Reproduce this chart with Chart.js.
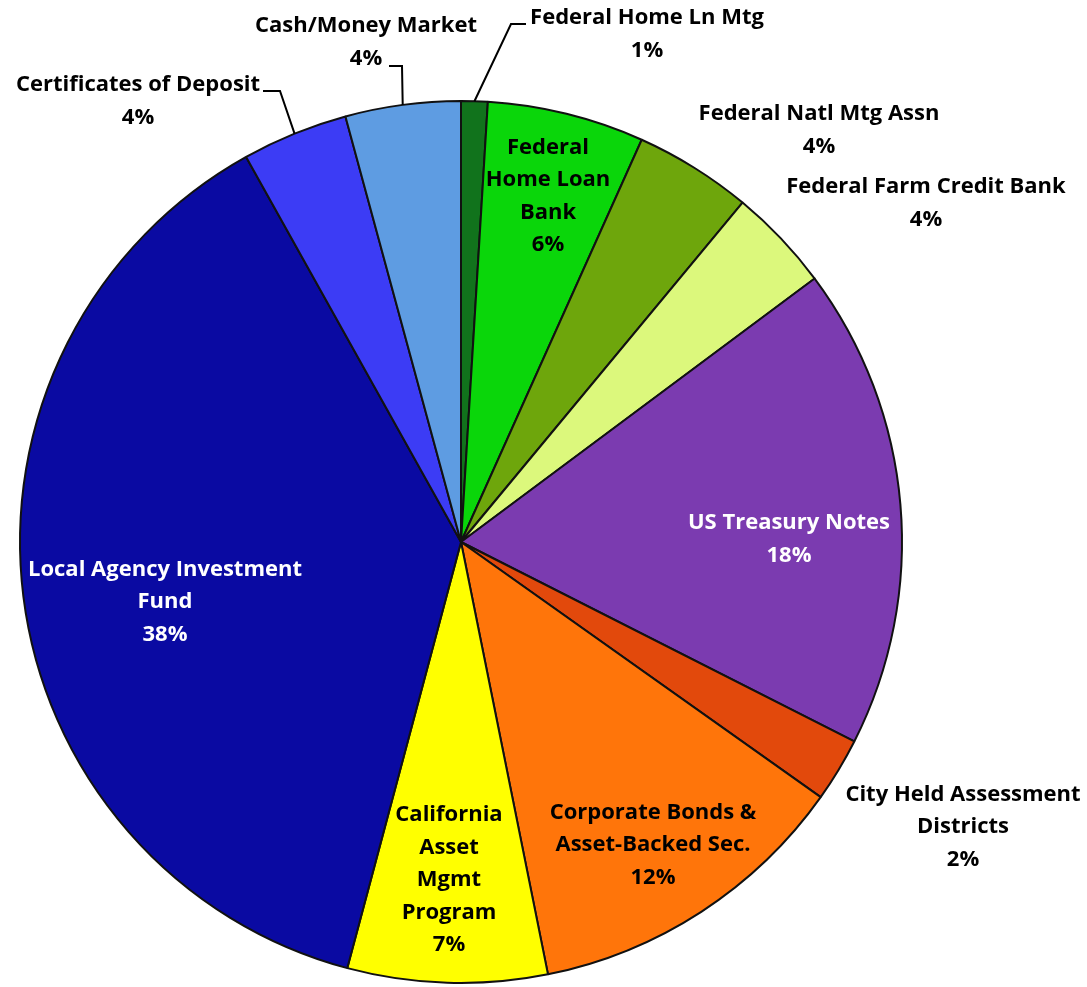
<!DOCTYPE html>
<html>
<head>
<meta charset="utf-8">
<script src="https://cdn.jsdelivr.net/npm/chart.js@4"></script>
<style>
  html, body { margin: 0; padding: 0; background: #fff; }
</style>
</head>
<body>
<canvas id="chart1" width="1087" height="987"></canvas>
<script>
// slice names, wrapped the way they appear on the chart
const categories = [
  ['Federal Home Ln Mtg'],
  ['Federal', 'Home Loan', 'Bank'],
  ['Federal Natl Mtg Assn'],
  ['Federal Farm Credit Bank'],
  ['US Treasury Notes'],
  ['City Held Assessment', 'Districts'],
  ['Corporate Bonds &', 'Asset-Backed Sec.'],
  ['California', 'Asset', 'Mgmt', 'Program'],
  ['Local Agency Investment', 'Fund'],
  ['Certificates of Deposit'],
  ['Cash/Money Market']
];
const shares = [0.97, 5.75, 4.3, 3.79, 17.66, 2.35, 12.02, 7.31, 37.75, 3.88, 4.22];
const sliceColors = ['#11731c', '#0ad60a', '#6ea60c', '#dcf87c', '#7b3bb0', '#e2490c',
                     '#ff750a', '#ffff00', '#0a0aa2', '#3c3cf5', '#5e9ce2'];

// where each label sits, relative to the pie centre (px), plus optional leader line
const labelLayout = [
  { dx: 186, dy: -508, color: '#000', leader: [[50, -518], [65, -518]] },
  { dx: 87, dy: -346, color: '#000' },
  { dx: 358, dy: -412, color: '#000' },
  { dx: 465, dy: -339, color: '#000' },
  { dx: 328, dy: -3, color: '#fff' },
  { dx: 502, dy: 285, color: '#000' },
  { dx: 192, dy: 303, color: '#000' },
  { dx: -12, dy: 338, color: '#000' },
  { dx: -296, dy: 60, color: '#fff' },
  { dx: -323, dy: -441, color: '#000', leader: [[-181, -451], [-198, -451]] },
  { dx: -95, dy: -500, color: '#000', leader: [[-59, -476], [-72, -476]] }
];

const sliceLabels = {
  id: 'sliceLabels',
  afterDatasetsDraw(chart) {
    const ctx = chart.ctx;
    const arcs = chart.getDatasetMeta(0).data;
    const lineH = 32.5;
    ctx.save();
    ctx.font = 'bold 22px "Open Sans"';
    ctx.textAlign = 'center';
    ctx.textBaseline = 'middle';
    arcs.forEach((arc, i) => {
      const lay = labelLayout[i];
      const cx = arc.x, cy = arc.y;
      if (lay.leader) {
        const mid = (arc.startAngle + arc.endAngle) / 2;
        const r = arc.outerRadius;
        ctx.beginPath();
        ctx.moveTo(cx + r * Math.cos(mid), cy + r * Math.sin(mid));
        lay.leader.forEach(p => ctx.lineTo(cx + p[0], cy + p[1]));
        ctx.strokeStyle = '#000';
        ctx.lineWidth = 2;
        ctx.stroke();
      }
      const lines = categories[i].concat(Math.round(shares[i]) + '%');
      const top = cy + lay.dy - (lines.length - 1) * lineH / 2;
      ctx.fillStyle = lay.color;
      lines.forEach((t, k) => ctx.fillText(t, cx + lay.dx, top + k * lineH));
    });
    ctx.restore();
  }
};

new Chart(document.getElementById('chart1'), {
  type: 'pie',
  data: {
    labels: categories,
    datasets: [{
      data: shares,
      backgroundColor: sliceColors,
      borderColor: '#111',
      borderWidth: 2
    }]
  },
  options: {
    responsive: false,
    animation: false,
    layout: { padding: { left: 19, right: 184, top: 100, bottom: 3 } },
    plugins: {
      legend: { display: false },
      tooltip: { enabled: false }
    }
  },
  plugins: [sliceLabels]
});
</script>
</body>
</html>
